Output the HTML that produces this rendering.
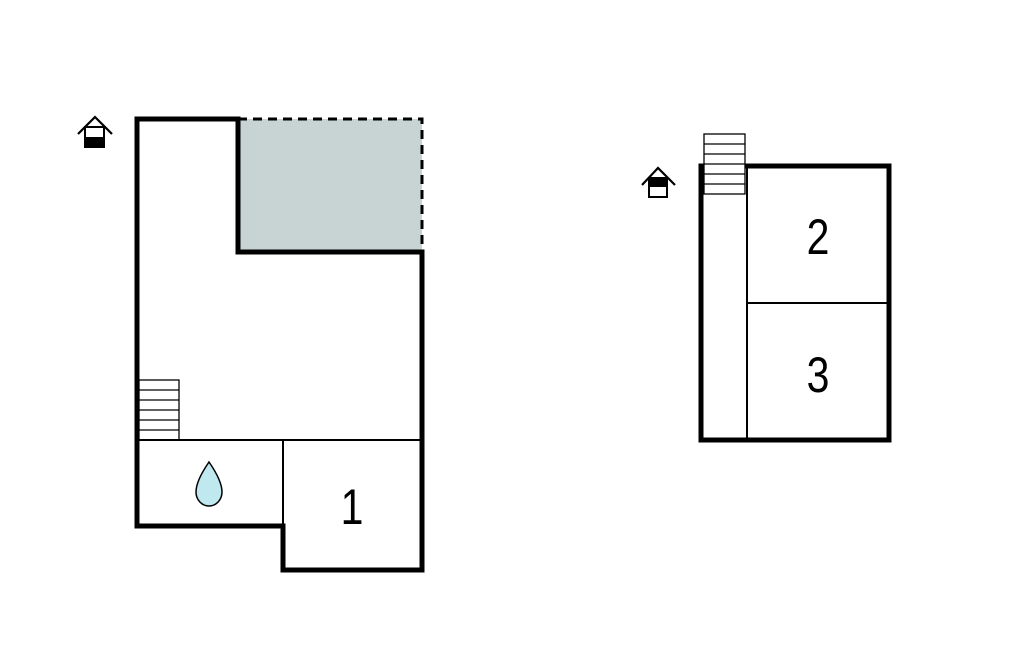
<!DOCTYPE html>
<html><head><style>html,body{margin:0;padding:0;background:#fff}svg{display:block}</style></head><body>
<svg width="1024" height="652" viewBox="0 0 1024 652" xmlns="http://www.w3.org/2000/svg">
<rect x="0" y="0" width="1024" height="652" fill="#fff"/>
<!-- left plan -->
<rect x="238" y="119" width="184" height="133" fill="#c8d4d4"/>
<path d="M238 119 H422 V252" fill="none" stroke="#000" stroke-width="3" stroke-dasharray="9,6"/>
<path d="M238 119 H137 V526 H283 V570 H422 V252 H238 Z" fill="none" stroke="#000" stroke-width="5"/>
<line x1="137" y1="440" x2="422" y2="440" stroke="#000" stroke-width="2"/>
<line x1="283" y1="440" x2="283" y2="526" stroke="#000" stroke-width="2"/>
<g stroke="#000" stroke-width="1.3" fill="none">
<rect x="139" y="380" width="40" height="60"/>
<line x1="139" y1="390" x2="179" y2="390"/><line x1="139" y1="400" x2="179" y2="400"/>
<line x1="139" y1="410" x2="179" y2="410"/><line x1="139" y1="420" x2="179" y2="420"/>
<line x1="139" y1="430" x2="179" y2="430"/>
</g>
<path d="M209 462 C200 475 196 484 196 492 C196 500 202 506 209 506 C216 506 222 500 222 492 C222 484 218 475 209 462 Z" fill="#bfe8ef" stroke="#000" stroke-width="1.5"/>
<text transform="translate(352 524) scale(0.82 1)" font-family="Liberation Sans, sans-serif" font-size="50" text-anchor="middle">1</text>
<!-- left icon -->
<path d="M78 134 L95 117 L112 134" fill="none" stroke="#000" stroke-width="2.2"/>
<rect x="85" y="127" width="19" height="20" fill="#fff" stroke="#000" stroke-width="2"/>
<rect x="85" y="137" width="19" height="11" fill="#000"/>
<!-- right plan -->
<rect x="701" y="166" width="188" height="274" fill="none" stroke="#000" stroke-width="5"/>
<line x1="747" y1="166" x2="747" y2="440" stroke="#000" stroke-width="2"/>
<line x1="747" y1="303" x2="889" y2="303" stroke="#000" stroke-width="2"/>
<g stroke="#000" stroke-width="1.3" fill="#fff">
<rect x="704" y="134" width="41" height="60"/>
<line x1="704" y1="144" x2="745" y2="144"/><line x1="704" y1="154" x2="745" y2="154"/>
<line x1="704" y1="164" x2="745" y2="164"/><line x1="704" y1="174" x2="745" y2="174"/>
<line x1="704" y1="184" x2="745" y2="184"/>
</g>
<text transform="translate(818 254) scale(0.82 1)" font-family="Liberation Sans, sans-serif" font-size="50" text-anchor="middle">2</text>
<text transform="translate(818 392) scale(0.82 1)" font-family="Liberation Sans, sans-serif" font-size="50" text-anchor="middle">3</text>
<!-- right icon -->
<path d="M642 185 L658 168 L675 185" fill="none" stroke="#000" stroke-width="2.2"/>
<rect x="649" y="178" width="18" height="19" fill="#fff" stroke="#000" stroke-width="2"/>
<rect x="649" y="178" width="18" height="9" fill="#000"/>
</svg>
</body></html>
